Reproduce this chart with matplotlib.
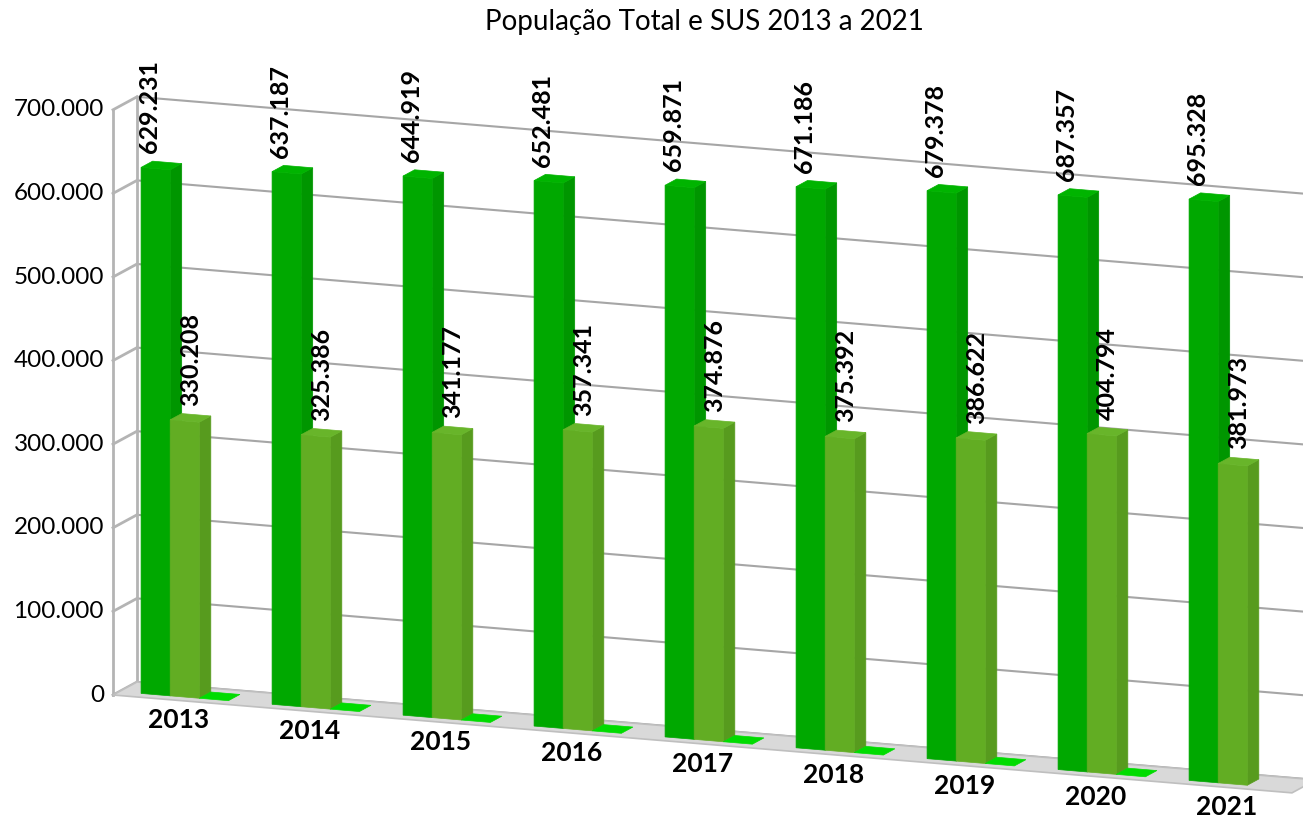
import numpy as np
import matplotlib
matplotlib.use("Agg")
import matplotlib.pyplot as plt
from matplotlib.patches import Polygon

plt.rcParams['font.family'] = ['Lato', 'DejaVu Sans']

# data
years = ["2013", "2014", "2015", "2016", "2017", "2018", "2019", "2020", "2021"]
total = [629231, 637187, 644919, 652481, 659871, 671186, 679378, 687357, 695328]
sus = [330208, 325386, 341177, 357341, 374876, 375392, 386622, 404794, 381973]
third = [0, 0, 0, 0, 0, 0, 0, 0, None]   # no value shown for 2021
ticks = [0, 100000, 200000, 300000, 400000, 500000, 600000, 700000]

# pseudo 3D projection (pixels, y down)
X0, Y0 = 113, 695          # front-left corner of the floor
CAT_W = 131.0              # pixels per category
SLOPE = 0.083              # floor tilt
VS = 0.836 / 1000          # pixels per person
DX, DY = 24, -13           # full depth offset


def P(c, v, d):
    return (X0 + CAT_W * c + DX * d, Y0 + SLOPE * CAT_W * c - VS * v + DY * d)


def fmt(v):
    return f"{v:,}".replace(",", ".")


fig = plt.figure(figsize=(13.03, 8.19), dpi=100)
ax = fig.add_axes([0, 0, 1, 1])
ax.set_xlim(0, 1303)
ax.set_ylim(819, 0)
ax.axis('off')

n = len(years)
grid_c = '#A6A6A6'

# back wall gridlines + left wall
for t in ticks:
    a, b, e = P(0, t, 0), P(0, t, 1), P(n, t, 1)
    ax.plot([b[0], e[0]], [b[1], e[1]], color=grid_c, lw=1.5, zorder=1)
    ax.plot([a[0], b[0]], [a[1], b[1]], color='#B4B4B4', lw=2, zorder=1)
    ax.text(a[0] - 9, a[1], fmt(t), ha='right', va='center', fontsize=17.5, color='black')
for d in (0, 1):
    a, b = P(0, 0, d), P(0, ticks[-1], d)
    ax.plot([a[0], b[0]], [a[1], b[1]], color='#B4B4B4', lw=2, zorder=1)

# floor
floor = [P(0, 0, 0), P(n, 0, 0), P(n, 0, 1), P(0, 0, 1)]
ax.add_patch(Polygon(floor, closed=True, fc='#D9D9D9', ec='#BFBFBF', lw=1.2, zorder=2))

series = [total, sus, third]
# front, side, top colours
colors = [('#00A800', '#009600', '#00B400'),
          ('#62AD23', '#579B1E', '#68B52A'),
          ('#00D400', '#00C000', '#00DC00')]
w = 1 / 4.5
gap = 0.75 / 4.5
d0, d1 = 0.26, 0.74
label_depth = [0.0, 0.5]

for i in range(n):
    for s, vals in enumerate(series):
        v = vals[i]
        if v is None:
            continue
        c0 = i + gap + s * w
        c1 = c0 + w
        fc, sc, tc = colors[s]
        z = 3 + i * 3 + s * 0.5
        if v > 0:
            side = [P(c1, 0, d0), P(c1, 0, d1), P(c1, v, d1), P(c1, v, d0)]
            front = [P(c0, 0, d0), P(c1, 0, d0), P(c1, v, d0), P(c0, v, d0)]
            ax.add_patch(Polygon(side, closed=True, fc=sc, ec=sc, lw=0.5, zorder=z))
            ax.add_patch(Polygon(front, closed=True, fc=fc, ec=fc, lw=0.5, zorder=z))
        top = [P(c0, v, d0), P(c1, v, d0), P(c1, v, d1), P(c0, v, d1)]
        ax.add_patch(Polygon(top, closed=True, fc=tc, ec=tc, lw=0.5, zorder=z))
        if s < 2:
            lx = P(c0 + w / 2, v, label_depth[s])[0]
            ly = P(c0 + w / 2, v, d1)[1] - 9
            ax.text(lx, ly, fmt(v), rotation=90, ha='center', va='bottom',
                    fontsize=18, fontweight='bold', color='black', zorder=100)

# category labels
for i, y in enumerate(years):
    x, yy = P(i + 0.5, 0, 0)
    ax.text(x, yy + 20, y, ha='center', va='center', fontsize=19,
            fontweight='bold', color='black', zorder=100)

ax.text(704, 22, "População Total e SUS 2013 a 2021", ha='center', va='center',
        fontsize=20, color='black')

fig.savefig("out.png", dpi=100)
